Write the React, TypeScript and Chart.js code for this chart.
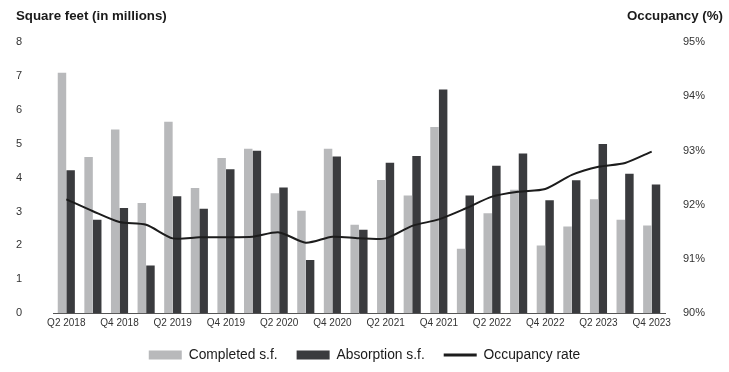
import React, { useEffect, useRef } from "react";
import { Chart, registerables } from "chart.js";

Chart.register(...registerables);

const quarters = [
  "Q2 2018", "Q3 2018", "Q4 2018", "Q1 2019", "Q2 2019", "Q3 2019", "Q4 2019",
  "Q1 2020", "Q2 2020", "Q3 2020", "Q4 2020", "Q1 2021", "Q2 2021", "Q3 2021",
  "Q4 2021", "Q1 2022", "Q2 2022", "Q3 2022", "Q4 2022", "Q1 2023", "Q2 2023",
  "Q3 2023", "Q4 2023",
];

const completedSf = [
  7.09, 4.61, 5.42, 3.25, 5.65, 3.69, 4.58, 4.85, 3.54, 3.02, 4.85, 2.61,
  3.93, 3.47, 5.49, 1.9, 2.95, 3.64, 2.0, 2.56, 3.36, 2.76, 2.59,
];

const absorptionSf = [
  4.22, 2.76, 3.1, 1.41, 3.45, 3.08, 4.25, 4.79, 3.71, 1.57, 4.62, 2.46,
  4.44, 4.64, 6.6, 3.47, 4.35, 4.71, 3.33, 3.92, 4.99, 4.11, 3.8,
];

const occupancyRate = [
  92.1, 91.88, 91.68, 91.63, 91.38, 91.4, 91.4, 91.41, 91.49, 91.3, 91.41, 91.38,
  91.38, 91.61, 91.73, 91.93, 92.15, 92.24, 92.29, 92.55, 92.7, 92.77, 92.98,
];

const leftTicks = [0, 1, 2, 3, 4, 5, 6, 7, 8];
const rightTicks = [90, 91, 92, 93, 94, 95];

const titlePlugin = {
  id: "cornerTitles",
  afterDraw(chart: any) {
    const ctx = chart.ctx;
    ctx.save();
    ctx.font = "bold 13.3px 'Liberation Sans', Arial, sans-serif";
    ctx.fillStyle = "#1a1a1a";
    ctx.textBaseline = "alphabetic";
    ctx.textAlign = "left";
    ctx.fillText("Square feet (in millions)", 16, 20);
    ctx.textAlign = "right";
    ctx.fillText("Occupancy (%)", 723, 20);
    ctx.restore();
  },
};

export default function App() {
  const canvasRef = useRef<HTMLCanvasElement | null>(null);

  useEffect(() => {
    document.body.style.margin = "0";
    const canvas = canvasRef.current;
    if (!canvas) return;
    Chart.defaults.font.family = "'Liberation Sans', Arial, sans-serif";
    const chart = new Chart(canvas, {
      type: "bar",
      data: {
        labels: quarters,
        datasets: [
          {
            type: "bar",
            label: "Completed s.f.",
            data: completedSf,
            backgroundColor: "#b8b9bb",
            borderWidth: 0,
            yAxisID: "y",
            order: 1,
            categoryPercentage: 0.65,
            barPercentage: 0.98,
          },
          {
            type: "bar",
            label: "Absorption s.f.",
            data: absorptionSf,
            backgroundColor: "#3a3b3e",
            borderWidth: 0,
            yAxisID: "y",
            order: 1,
            categoryPercentage: 0.65,
            barPercentage: 0.98,
          },
          {
            type: "line",
            label: "Occupancy rate",
            data: occupancyRate,
            borderColor: "#1c1c1c",
            backgroundColor: "#1c1c1c",
            borderWidth: 2,
            pointRadius: 0,
            tension: 0.25,
            yAxisID: "y2",
            order: 0,
          },
        ],
      } as any,
      options: {
        responsive: false,
        animation: false,
        maintainAspectRatio: false,
        layout: { padding: { top: 42, left: 0, right: 0, bottom: 0 } },
        plugins: {
          tooltip: { enabled: false },
          legend: {
            position: "bottom",
            labels: {
              usePointStyle: true,
              pointStyleWidth: 33,
              boxHeight: 9,
              padding: 19,
              color: "#1a1a1a",
              font: { size: 13.8 },
              generateLabels: (c: any) => {
                const base = (Chart.defaults.plugins.legend.labels as any).generateLabels(c);
                return base
                  .sort((a: any, b: any) => a.datasetIndex - b.datasetIndex)
                  .map((l: any) => {
                    const isLine = l.datasetIndex === 2;
                    return {
                      ...l,
                      pointStyle: isLine ? "line" : "rect",
                      lineWidth: isLine ? 3 : 0,
                      strokeStyle: isLine ? "#1c1c1c" : l.fillStyle,
                    };
                  });
              },
            },
          },
        },
        scales: {
          x: {
            grid: { display: false, drawTicks: false },
            border: { display: true, color: "#555555", width: 1 },
            ticks: {
              autoSkip: false,
              maxRotation: 0,
              padding: 4,
              color: "#333333",
              font: { size: 10 },
              callback: (_v: any, i: number) => (i % 2 === 0 ? quarters[i] : ""),
            },
            afterFit: (s: any) => {
              s.height = 16;
            },
          },
          y: {
            position: "left",
            min: 0,
            max: 8,
            grid: { display: false, drawTicks: false },
            border: { display: false },
            afterBuildTicks: (s: any) => {
              s.ticks = leftTicks.map((v) => ({ value: v }));
            },
            ticks: {
              padding: 31,
              color: "#333333",
              font: { size: 11 },
            },
            afterFit: (s: any) => {
              s.width = 53;
            },
          },
          y2: {
            position: "right",
            min: 90,
            max: 95,
            grid: { display: false, drawTicks: false },
            border: { display: false },
            afterBuildTicks: (s: any) => {
              s.ticks = rightTicks.map((v) => ({ value: v }));
            },
            ticks: {
              padding: 18,
              color: "#333333",
              font: { size: 11 },
              callback: (v: any) => `${v}%`,
            },
            afterFit: (s: any) => {
              s.width = 64;
            },
          },
        },
      } as any,
      plugins: [titlePlugin],
    });
    return () => chart.destroy();
  }, []);

  return (
    <div style={{ width: 729, height: 372 }}>
      <canvas ref={canvasRef} width={729} height={372} style={{ width: 729, height: 372 }} />
    </div>
  );
}
